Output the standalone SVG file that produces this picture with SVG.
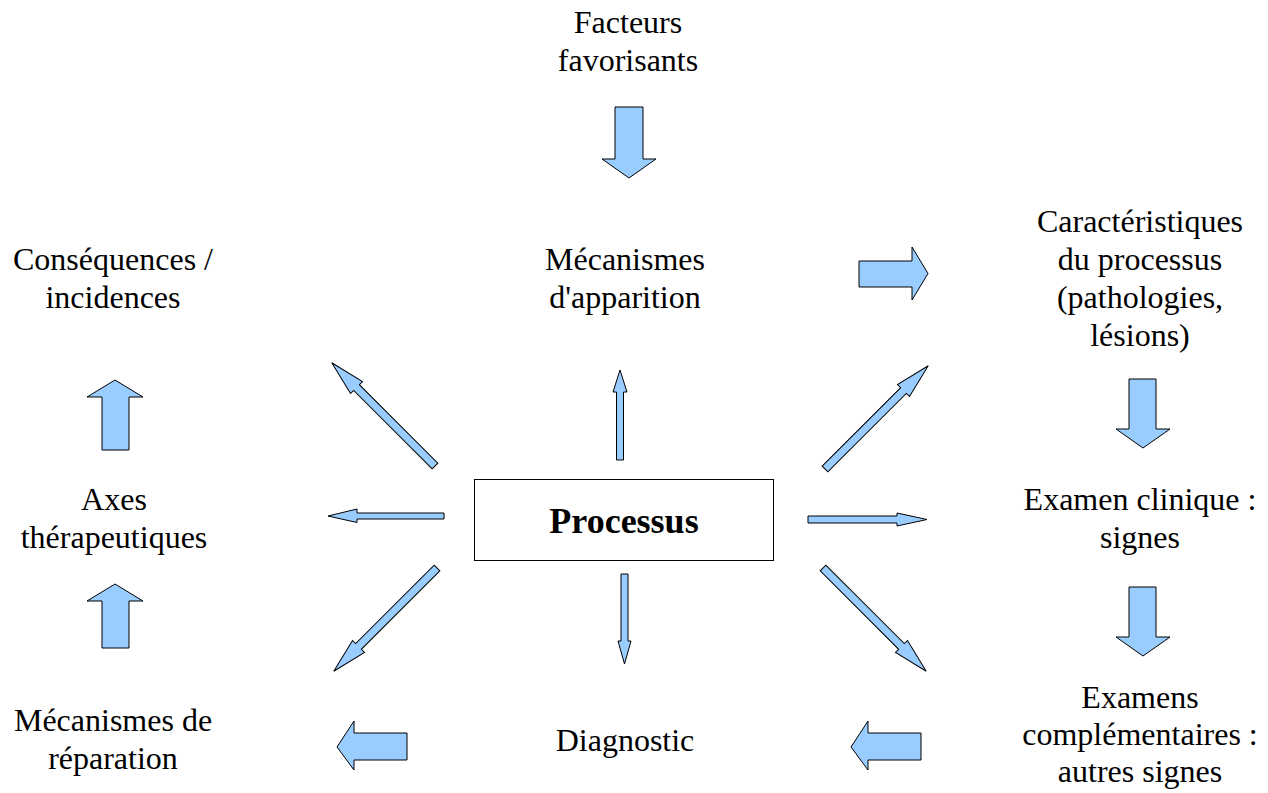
<svg xmlns="http://www.w3.org/2000/svg" width="1268" height="793" viewBox="0 0 1268 793">
<style>
.t{font-family:"Liberation Serif","Times New Roman",serif;font-size:32px;fill:#000;text-anchor:middle}
.b{font-family:"Liberation Serif","Times New Roman",serif;font-size:36px;font-weight:bold;fill:#000;text-anchor:middle}
.a{fill:#99ccff;stroke:#000;stroke-width:1;stroke-linejoin:miter}
</style>
<defs>
<polygon id="diag" points="0,-4 111,-4 111,-8.5 146,0 111,8.5 111,4 0,4"/>
</defs>
<rect width="1268" height="793" fill="#fff"/>
<g id="processus">
<rect x="474.5" y="479.5" width="299" height="81" fill="#fff" stroke="#000" stroke-width="1"/>
<text class="b" x="624" y="533">Processus</text>
</g>
<g id="facteurs"><text class="t" x="628" y="33">Facteurs</text><text class="t" x="628" y="71">favorisants</text></g>
<g id="mecanismes"><text class="t" x="625" y="270">Mécanismes</text><text class="t" x="625" y="308">d'apparition</text></g>
<g id="consequences"><text class="t" x="113" y="270">Conséquences /</text><text class="t" x="113" y="308">incidences</text></g>
<g id="caracteristiques"><text class="t" x="1140" y="232">Caractéristiques</text><text class="t" x="1140" y="270">du processus</text><text class="t" x="1140" y="308">(pathologies,</text><text class="t" x="1140" y="346">lésions)</text></g>
<g id="axes"><text class="t" x="114" y="510">Axes</text><text class="t" x="114" y="548">thérapeutiques</text></g>
<g id="examen"><text class="t" x="1140" y="510">Examen clinique :</text><text class="t" x="1140" y="548">signes</text></g>
<g id="reparation"><text class="t" x="113" y="731">Mécanismes de</text><text class="t" x="113" y="769">réparation</text></g>
<g id="diagnostic"><text class="t" x="625" y="751">Diagnostic</text></g>
<g id="examens"><text class="t" x="1140" y="708">Examens</text><text class="t" x="1140" y="745">complémentaires :</text><text class="t" x="1140" y="782">autres signes</text></g>
<g id="connectors">
<polygon class="a" points="615,107 643,107 643,159 656,159 629,178 602,159 615,159"/>
<polygon class="a" points="859,261 912,261 912,247 928,273.5 912,300 912,287 859,287"/>
<polygon class="a" points="1129,379 1156,379 1156,429 1170,429 1143,448 1116,429 1129,429"/>
<polygon class="a" points="1129,587 1156,587 1156,637 1170,637 1143,656 1116,637 1129,637"/>
<polygon class="a" points="921,733 868,733 868,721 851,747 868,770 868,760 921,760"/>
<polygon class="a" points="407,733 354,733 354,721 337,747 354,770 354,760 407,760"/>
<polygon class="a" points="102,450 102,397 87,397 115,380 143,397 129,397 129,450"/>
<polygon class="a" points="102,648 102,601 87,601 115,584 143,601 129,601 129,648"/>
<polygon class="a" points="616.5,460 616.5,392 613,392 620,370 627,392 623.5,392 623.5,460"/>
<polygon class="a" points="621,574 628,574 628,641 631,641 624.5,664 618,641 621,641"/>
<polygon class="a" points="444,513 357,513 357,509 328,516 357,522.5 357,519 444,519"/>
<polygon class="a" points="808,516 897,516 897,513 927,519.5 897,526 897,523 808,523"/>
<use href="#diag" class="a" transform="translate(435,466) rotate(-135)"/>
<use href="#diag" class="a" transform="translate(825,469) rotate(-45)"/>
<use href="#diag" class="a" transform="translate(437,568) rotate(135)"/>
<use href="#diag" class="a" transform="translate(823,568) rotate(45)"/>
</g>
</svg>
